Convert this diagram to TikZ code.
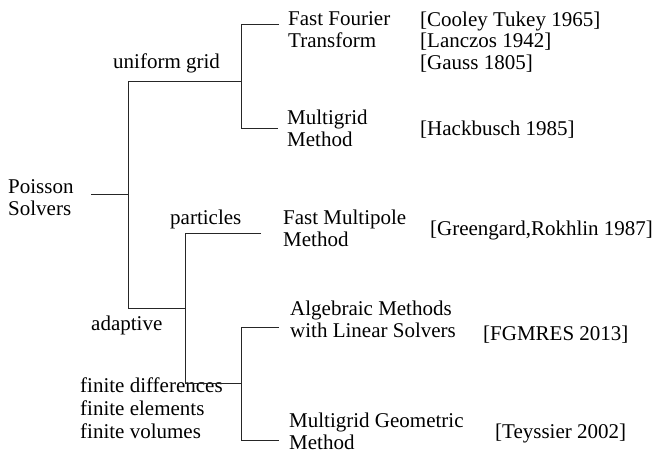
\documentclass[tikz,border=0pt]{standalone}
\usepackage{fontspec}
\setmainfont{Liberation Serif}
\begin{document}
\begin{tikzpicture}[x=1pt,y=-1pt,
  lbl/.style={anchor=base west,inner sep=0pt,align=left,font=\fontsize{21}{22}\selectfont},
  branch/.style={draw=black!85,line width=0.8pt}]
\useasboundingbox (0,0) rectangle (657,458);
% labels (multi-line nodes are placed by the baseline of their last line)
\node[lbl] (root) at (8,215) {Poisson\\Solvers};
\node[lbl] (ug) at (113,68) {uniform grid};
\node[lbl] (fft) at (288,47) {Fast Fourier\\Transform};
\node[lbl] (mg) at (287,146) {Multigrid\\Method};
\node[lbl] (part) at (170,224) {particles};
\node[lbl] (fmm) at (283,246) {Fast Multipole\\Method};
\node[lbl] (adap) at (91,330) {adaptive};
\node[lbl,font=\fontsize{21}{23}\selectfont] (fin) at (80,438) {finite differences\\finite elements\\finite volumes};
\node[lbl] (alg) at (290,337) {Algebraic Methods\\with Linear Solvers};
\node[lbl] (mgg) at (289,449) {Multigrid Geometric\\Method};
% references
\node[lbl,font=\fontsize{21}{21.5}\selectfont] (rfft) at (420,69) {[Cooley Tukey 1965]\\{}[Lanczos 1942]\\{}[Gauss 1805]};
\node[lbl] (rmg) at (420,135) {[Hackbusch 1985]};
\node[lbl] (rfmm) at (430,235) {[Greengard,Rokhlin 1987]};
\node[lbl] (ralg) at (483,340) {[FGMRES 2013]};
\node[lbl] (rmgg) at (495,438) {[Teyssier 2002]};
% junctions
\coordinate (r0) at (91,194);
\coordinate (r1) at (128,194);
\coordinate (u0) at (128,81);
\coordinate (u1) at (241,81);
\coordinate (u2) at (241,24);
\coordinate (u3) at (279,24);
\coordinate (u4) at (241,128);
\coordinate (u5) at (278,128);
\coordinate (a0) at (128,308);
\coordinate (a1) at (185,308);
\coordinate (p0) at (185,233);
\coordinate (p1) at (261,233);
\coordinate (f0) at (185,383);
\coordinate (f1) at (241,383);
\coordinate (f2) at (241,327);
\coordinate (f3) at (279,327);
\coordinate (f4) at (241,440);
\coordinate (f5) at (279,440);
% tree
\draw[branch] (r0) -- (r1);
\draw[branch] (u0) -- (a0);
\draw[branch] (u0) -- (u1);
\draw[branch] (u3) -- (u2) -- (u4) -- (u5);
\draw[branch] (a0) -- (a1);
\draw[branch] (p1) -- (p0) -- (f0) -- (f1);
\draw[branch] (f3) -- (f2) -- (f4) -- (f5);
\end{tikzpicture}
\end{document}
